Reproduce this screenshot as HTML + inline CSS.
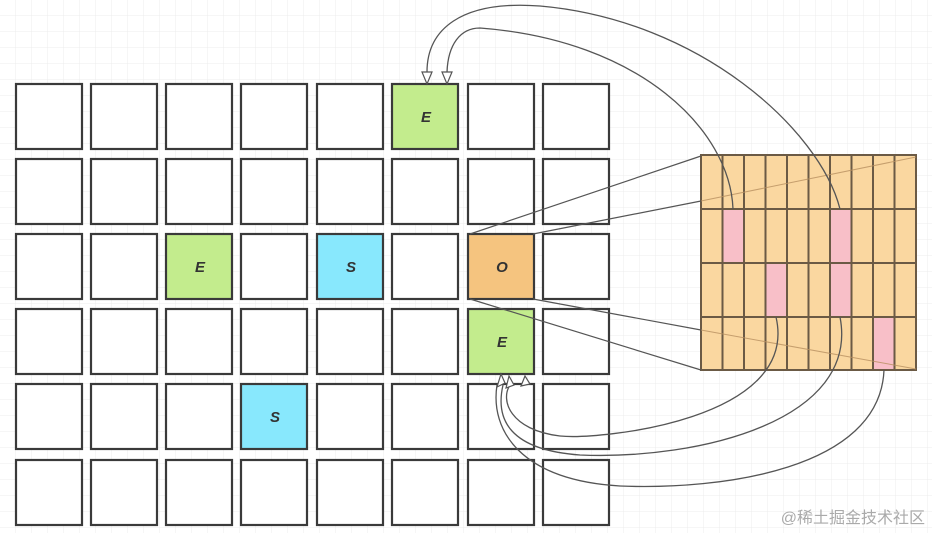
<!DOCTYPE html>
<html><head><meta charset="utf-8"><style>
html,body{margin:0;padding:0;background:#fff;}
svg{display:block;}
</style></head><body>
<svg width="932" height="533" viewBox="0 0 932 533" xmlns="http://www.w3.org/2000/svg">
<defs>
<pattern id="g" width="16" height="16" patternUnits="userSpaceOnUse">
<path d="M16 0V16M0 16H16" stroke="#ececec" stroke-width="1" fill="none"/>
</pattern>
</defs>
<rect width="932" height="533" fill="url(#g)"/>
<g stroke="#333" stroke-width="2.2" fill="#fff" id="cells">
</g>
<g stroke="#3a3a3a" stroke-width="2.2">
<!-- rows generated manually -->
<g fill="#fff">
<rect x="16" y="84" width="66" height="65"/><rect x="91" y="84" width="66" height="65"/><rect x="166" y="84" width="66" height="65"/><rect x="241" y="84" width="66" height="65"/><rect x="317" y="84" width="66" height="65"/><rect x="392" y="84" width="66" height="65" fill="#c3ec8d"/><rect x="468" y="84" width="66" height="65"/><rect x="543" y="84" width="66" height="65"/>
<rect x="16" y="159" width="66" height="65"/><rect x="91" y="159" width="66" height="65"/><rect x="166" y="159" width="66" height="65"/><rect x="241" y="159" width="66" height="65"/><rect x="317" y="159" width="66" height="65"/><rect x="392" y="159" width="66" height="65"/><rect x="468" y="159" width="66" height="65"/><rect x="543" y="159" width="66" height="65"/>
<rect x="16" y="234" width="66" height="65"/><rect x="91" y="234" width="66" height="65"/><rect x="166" y="234" width="66" height="65" fill="#c3ec8d"/><rect x="241" y="234" width="66" height="65"/><rect x="317" y="234" width="66" height="65" fill="#88e8fd"/><rect x="392" y="234" width="66" height="65"/><rect x="468" y="234" width="66" height="65" fill="#f5c47f"/><rect x="543" y="234" width="66" height="65"/>
<rect x="16" y="309" width="66" height="65"/><rect x="91" y="309" width="66" height="65"/><rect x="166" y="309" width="66" height="65"/><rect x="241" y="309" width="66" height="65"/><rect x="317" y="309" width="66" height="65"/><rect x="392" y="309" width="66" height="65"/><rect x="468" y="309" width="66" height="65" fill="#c3ec8d"/><rect x="543" y="309" width="66" height="65"/>
<rect x="16" y="384" width="66" height="65"/><rect x="91" y="384" width="66" height="65"/><rect x="166" y="384" width="66" height="65"/><rect x="241" y="384" width="66" height="65" fill="#88e8fd"/><rect x="317" y="384" width="66" height="65"/><rect x="392" y="384" width="66" height="65"/><rect x="468" y="384" width="66" height="65"/><rect x="543" y="384" width="66" height="65"/>
<rect x="16" y="460" width="66" height="65"/><rect x="91" y="460" width="66" height="65"/><rect x="166" y="460" width="66" height="65"/><rect x="241" y="460" width="66" height="65"/><rect x="317" y="460" width="66" height="65"/><rect x="392" y="460" width="66" height="65"/><rect x="468" y="460" width="66" height="65"/><rect x="543" y="460" width="66" height="65"/>
</g>
</g>
<g font-family="Liberation Sans, sans-serif" font-weight="bold" font-style="italic" font-size="15" fill="#333" text-anchor="middle">
<text x="426" y="122">E</text><text x="200" y="272">E</text><text x="351" y="272">S</text><text x="502" y="272">O</text><text x="502" y="347">E</text><text x="275" y="422">S</text>
</g>
<!-- right grid -->
<rect x="701" y="155" width="215" height="215" fill="#fad7a0"/>
<g fill="#f8bfc8">
<rect x="722.5" y="209" width="21.5" height="54"/><rect x="830" y="209" width="21.5" height="54"/>
<rect x="765.5" y="263" width="21.5" height="54"/><rect x="830" y="263" width="21.5" height="54"/>
<rect x="873" y="317" width="21.5" height="53"/>
</g>
<g stroke="#6b5a45" stroke-width="2" fill="none">
<rect x="701" y="155" width="215" height="215"/>
<path d="M701 209H916M701 263H916M701 317H916"/>
<path d="M722.5 155V370M744 155V370M765.5 155V370M787 155V370M808.5 155V370M830 155V370M851.5 155V370M873 155V370M894.5 155V370"/>
</g>
<g stroke="#555" stroke-width="1.2" fill="none">
<path d="M470 234L701 156M533 234L701 201M533 299L701 330M470 299L701 370"/>
</g>
<g stroke="#b89060" stroke-width="1" fill="none" opacity="0.8">
<path d="M701 201L916 157M701 330L916 369"/>
</g>
<!-- curves -->
<g stroke="#555" stroke-width="1.3" fill="none">
<path d="M733 209C730 130 640 40 480 28C460 28 448 45 447 72"/>
<path d="M840 209C820 130 700 20 540 6C460 0 427 30 427 72"/>
<path d="M776 317C800 420 600 440 560 436C510 430 500 400 510 385"/>
<path d="M840 317C860 420 700 460 580 455C510 450 495 420 503 385"/>
<path d="M884 370C880 470 720 490 620 486C520 480 490 430 497 385"/>
</g>
<g fill="#fff" stroke="#555" stroke-width="1.2">
<path d="M422 72L432 72L427 84Z"/><path d="M442 72L452 72L447 84Z"/>
<path d="M497 387L505 383L501 374Z"/><path d="M506 388L514 385L509 376Z"/><path d="M521 386L530 384L525 376Z"/>
</g>
<text x="925" y="523" text-anchor="end" font-family="Liberation Sans, Noto Sans CJK SC, sans-serif" font-size="16" fill="#aaa">@稀土掘金技术社区</text>
</svg>
</body></html>
